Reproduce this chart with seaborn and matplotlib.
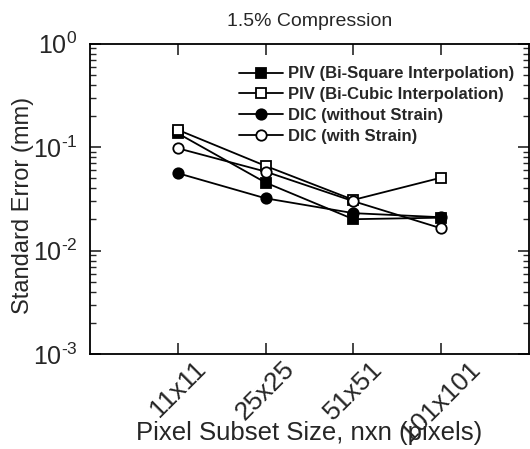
import matplotlib
matplotlib.use("Agg")
import matplotlib.pyplot as plt
import seaborn as sns
import pandas as pd
import numpy as np
from matplotlib.ticker import LogLocator, FuncFormatter, NullFormatter

categories = ["11x11", "25x25", "51x51", "101x101"]
piv_bisquare = [0.136, 0.0454, 0.0201, 0.0208]
piv_bicubic = [0.147, 0.0658, 0.0309, 0.0507]
dic_no_strain = [0.056, 0.032, 0.023, 0.021]
dic_strain = [0.0975, 0.058, 0.030, 0.0164]

series_names = ["PIV (Bi-Square Interpolation)", "PIV (Bi-Cubic Interpolation)",
                "DIC (without Strain)", "DIC (with Strain)"]
series_values = [piv_bisquare, piv_bicubic, dic_no_strain, dic_strain]
series_markers = ["s", "s", "o", "o"]
series_filled = [True, False, True, False]

sns.set_theme(style="ticks")
plt.rcParams['font.family'] = ['Liberation Sans', 'DejaVu Sans']
plt.rcParams['mathtext.fontset'] = 'custom'
plt.rcParams['mathtext.rm'] = 'Liberation Sans'
plt.rcParams['mathtext.it'] = 'Liberation Sans'

fig = plt.figure(figsize=(5.30, 4.49), dpi=100)
ax = fig.add_axes([90/530, 1-354/449, (529-90)/530, (354-43.7)/449])

pos = list(range(len(categories)))
for name, vals, mk, filled in zip(series_names, series_values, series_markers, series_filled):
    df = pd.DataFrame({"x": pos, "y": vals})
    sns.lineplot(data=df, x="x", y="y", ax=ax, color="black", linewidth=1.3,
                 marker=mk, markersize=7 if mk == "s" else 7.5,
                 markerfacecolor="black" if filled else "white",
                 markeredgecolor="black", markeredgewidth=1.3,
                 label=name, sort=False)


def log_fmt(v, p):
    e = int(round(np.log10(v)))
    if e < 0:
        return r"$\mathdefault{10^{\text{-}%d}}$" % (-e)
    return r"$\mathdefault{10^{%d}}$" % e


ax.set_yscale("log")
ax.set_ylim(1e-3, 1)
ax.set_xlim(-1, 4)
ax.set_xticks(pos)
ax.set_xticklabels(categories, rotation=45, ha="center", fontsize=19)
ax.yaxis.set_major_locator(LogLocator(base=10, numticks=10))
ax.yaxis.set_minor_locator(LogLocator(base=10, subs=np.arange(2, 10), numticks=10))
ax.yaxis.set_major_formatter(FuncFormatter(log_fmt))
ax.yaxis.set_minor_formatter(NullFormatter())
ax.tick_params(axis="y", which="major", labelsize=18, direction="in", length=8, width=1.2,
               left=True, right=True, pad=9)
ax.tick_params(axis="y", which="minor", direction="in", length=4, width=1,
               left=True, right=True)
ax.tick_params(axis="x", which="major", direction="in", length=8, width=1.2,
               top=True, bottom=True, pad=2)
for s in ax.spines.values():
    s.set_linewidth(1.3)
    s.set_color("black")

ax.set_xlabel("Pixel Subset Size, nxn (pixels)", fontsize=18.5)
ax.xaxis.set_label_coords(0.5, -0.215)
ax.set_ylabel("Standard Error (mm)", fontsize=17)
ax.yaxis.set_label_coords(-0.128, 0.48)
ax.set_title("1.5% Compression", fontsize=14, pad=13)

leg = ax.legend(loc="upper right", bbox_to_anchor=(1.0, 0.975), frameon=False,
                prop={"weight": "bold", "size": 12}, handlelength=2.6,
                handletextpad=0.3, labelspacing=0.35)

fig.savefig("out.png", dpi=100)
